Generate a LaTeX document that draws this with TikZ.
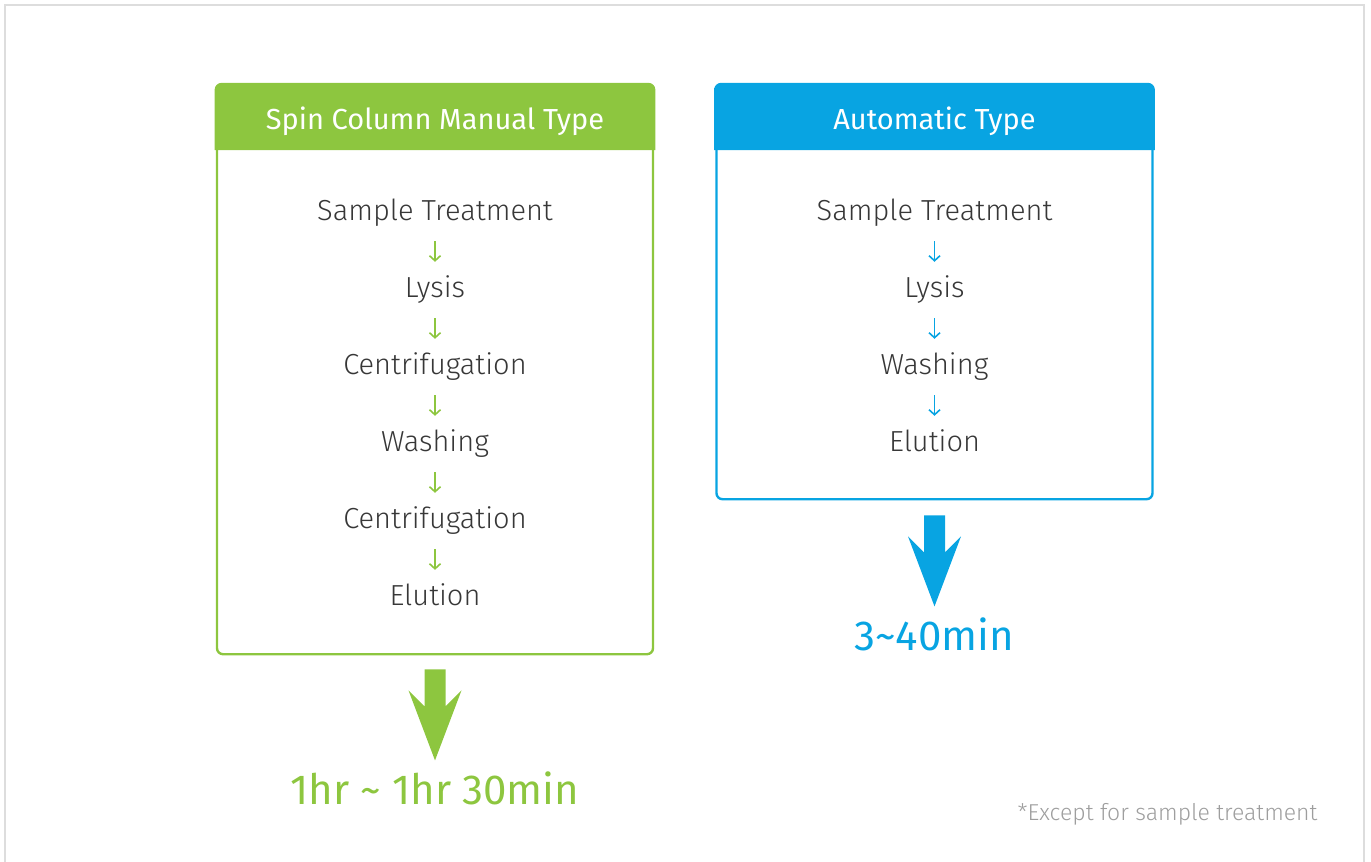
\documentclass[tikz,border=0pt]{standalone}
\usepackage{fontspec}
\setmainfont{Fira Sans}[UprightFont={* Light}]
\newfontfamily\plainface{Fira Sans}
\usetikzlibrary{arrows.meta, positioning, calc}

\definecolor{leafgreen}{RGB}{141,198,63}
\definecolor{leaflight}{RGB}{178,221,118}
\definecolor{skyblue}{RGB}{8,164,226}
\definecolor{skylight}{RGB}{70,192,238}
\definecolor{inkgray}{RGB}{55,55,55}
\definecolor{notegray}{RGB}{158,158,158}
\definecolor{framegray}{RGB}{221,221,221}

\tikzset{
  downarrow/.pic={
    \fill (-10.5,0) -- ++(21,0) -- ++(0,37) -- ++(16,-16) -- ++(-26.5,70)
      -- ++(-26.5,-70) -- ++(16,16) -- cycle;
  }
}

\begin{document}
\begin{tikzpicture}[x=1pt, y=-1pt, node distance=77pt, on grid]
  \tikzstyle{panel}=[draw, line width=2.4pt, rounded corners=6pt, minimum width=436pt, inner sep=0pt, anchor=north]
  \tikzstyle{headtext}=[text=white, font=\plainface\fontsize{29}{34}\selectfont]
  \tikzstyle{steplabel}=[text=inkgray, font=\fontsize{29}{34}\selectfont, text height=21pt, text depth=7pt, inner xsep=0pt, minimum height=56pt]
  \tikzstyle{stepflow}=[line width=1.6pt, -{Straight Barb[length=5pt, width=11pt, line width=1.6pt]}]
  \tikzstyle{timelabel}=[font=\plainface\fontsize{42}{50}\selectfont]
  \useasboundingbox (0,0) rectangle (1371,862);
  \draw[framegray, line width=2.2pt] (5,5) rectangle (1364,872);

  % manual spin column panel
  \node[panel, draw=leafgreen, minimum height=569pt] (lbox) at (435,84) {};
  \shade[top color=leafgreen, middle color=leaflight, bottom color=leafgreen]
    ($(lbox.north west)+(-1.2,66)$) [rounded corners=7pt] -- ($(lbox.north west)+(-1.2,-1.2)$)
    -- ($(lbox.north east)+(1.2,-1.2)$) [sharp corners] -- ($(lbox.north east)+(1.2,66)$) -- cycle;
  \node[headtext] (lhead) at ($(lbox.north)+(0,37)$) {Spin Column Manual Type};
  \node[steplabel] (l1) at (435,213) {Sample Treatment};
  \node[steplabel] (l2) [below = of l1] {Lysis};
  \node[steplabel] (l3) [below = of l2] {Centrifugation};
  \node[steplabel] (l4) [below = of l3] {Washing};
  \node[steplabel] (l5) [below = of l4] {Centrifugation};
  \node[steplabel] (l6) [below = of l5] {Elution};
  \foreach \a/\b in {l1/l2, l2/l3, l3/l4, l4/l5, l5/l6}
    \draw[stepflow, leafgreen] (\a.south) -- (\b.north);
  \pic[leafgreen] at ($(lbox.south)+(0,14)$) {downarrow};
  \node[timelabel, text=leafgreen] (ltime) at ($(lbox.south)+(0,133)$) {1hr \char`~{} 1hr 30min};

  % automatic panel
  \node[panel, draw=skyblue, minimum height=414pt] (rbox) at (934.5,84) {};
  \shade[top color=skyblue, middle color=skylight, bottom color=skyblue]
    ($(rbox.north west)+(-1.2,66)$) [rounded corners=7pt] -- ($(rbox.north west)+(-1.2,-1.2)$)
    -- ($(rbox.north east)+(1.2,-1.2)$) [sharp corners] -- ($(rbox.north east)+(1.2,66)$) -- cycle;
  \node[headtext] (rhead) at ($(rbox.north)+(0,37)$) {Automatic Type};
  \node[steplabel] (r1) at (934.5,213) {Sample Treatment};
  \node[steplabel] (r2) [below = of r1] {Lysis};
  \node[steplabel] (r3) [below = of r2] {Washing};
  \node[steplabel] (r4) [below = of r3] {Elution};
  \foreach \a/\b in {r1/r2, r2/r3, r3/r4}
    \draw[stepflow, skyblue] (\a.south) -- (\b.north);
  \pic[skyblue] at ($(rbox.south)+(0,15)$) {downarrow};
  \node[timelabel, text=skyblue] (rtime) at ($(rbox.south)+(0,134)$) {3\char`~40min};

  \node[text=notegray, font=\fontsize{23}{30}\selectfont, anchor=east] (note) at (1321,814) {*Except for sample treatment};
\end{tikzpicture}
\end{document}
